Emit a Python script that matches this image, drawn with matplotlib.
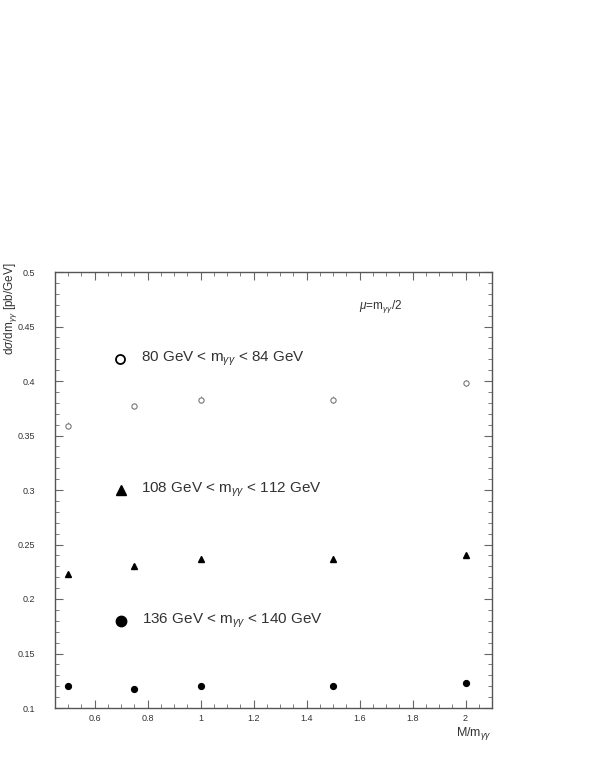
import matplotlib
matplotlib.use('Agg')
import matplotlib.pyplot as plt
from matplotlib.ticker import MultipleLocator

plt.rcParams['font.family'] = ['Liberation Sans', 'DejaVu Sans']
plt.rcParams['mathtext.fontset'] = 'custom'
plt.rcParams['mathtext.rm'] = 'Liberation Sans'
plt.rcParams['mathtext.it'] = 'Liberation Sans:italic'

# data
mass_ratio = [0.5, 0.75, 1.0, 1.5, 2.0]
sigma_80_84 = [0.359, 0.377, 0.383, 0.383, 0.398]
sigma_108_112 = [0.223, 0.230, 0.237, 0.237, 0.240]
sigma_136_140 = [0.120, 0.117, 0.120, 0.120, 0.123]
err_80_84 = [0.003, 0.003, 0.003, 0.003, 0.003]
err_108_112 = [0.002, 0.002, 0.002, 0.002, 0.002]
err_136_140 = [0.001, 0.001, 0.001, 0.001, 0.001]

labels = [r'80 GeV < m$_{\gamma\gamma}$ < 84 GeV',
          r'108 GeV < m$_{\gamma\gamma}$ < 112 GeV',
          r'136 GeV < m$_{\gamma\gamma}$ < 140 GeV']

txt = '#333333'
fig = plt.figure(figsize=(5.9, 7.63), dpi=100)
ax = fig.add_axes([55 / 590, 55 / 763, 437 / 590, 436 / 763])

# data points
ax.errorbar(mass_ratio, sigma_80_84, yerr=err_80_84, fmt='o', ms=3.8,
            mfc='white', mec='#777777', mew=0.8, ecolor='#777777', elinewidth=0.6, capsize=0)
ax.errorbar(mass_ratio, sigma_108_112, yerr=err_108_112, fmt='^', ms=4.6,
            color='black', ecolor='black', elinewidth=0.6, capsize=0)
ax.errorbar(mass_ratio, sigma_136_140, yerr=err_136_140, fmt='o', ms=4.2,
            color='black', ecolor='black', elinewidth=0.6, capsize=0)

# legend drawn inside the frame
ax.plot([0.697], [0.42], 'o', ms=6.5, mfc='white', mec='black', mew=1.3)
ax.text(0.773, 0.42, labels[0], fontsize=11, color=txt, va='center', ha='left')
ax.plot([0.699], [0.30], '^', ms=7, color='black')
ax.text(0.773, 0.30, labels[1], fontsize=11, color=txt, va='center', ha='left')
ax.plot([0.699], [0.18], 'o', ms=7.5, color='black')
ax.text(0.78, 0.18, labels[2], fontsize=11, color=txt, va='center', ha='left')

ax.text(0.696, 0.92, r'$\mu$=m$_{\gamma\gamma}$/2', transform=ax.transAxes,
        fontsize=8.5, color=txt, ha='left', va='center')

ax.set_xlim(0.45, 2.1)
ax.set_ylim(0.1, 0.5)
ax.xaxis.set_minor_locator(MultipleLocator(0.05))
ax.yaxis.set_minor_locator(MultipleLocator(0.01))
ax.set_xticks([0.6, 0.8, 1.0, 1.2, 1.4, 1.6, 1.8, 2.0])
ax.set_xticklabels(['0.6', '0.8', '1', '1.2', '1.4', '1.6', '1.8', '2'])
ax.set_yticks([0.1, 0.15, 0.2, 0.25, 0.3, 0.35, 0.4, 0.45, 0.5])
ax.set_yticklabels(['0.1', '0.15', '0.2', '0.25', '0.3', '0.35', '0.4', '0.45', '0.5'])

ax.tick_params(which='both', direction='in', top=True, right=True,
               colors='#666666', labelcolor=txt, labelsize=6.5)
ax.tick_params(which='major', length=6, width=0.8)
ax.tick_params(which='minor', length=3, width=0.6)
ax.tick_params(axis='x', which='major', pad=4)
ax.tick_params(axis='y', which='major', pad=14)
for s in ax.spines.values():
    s.set_color('#555555')
    s.set_linewidth(1.0)

fig.text(492 / 590, 1 - 733 / 763, r'M/m$_{\gamma\gamma}$', fontsize=9,
         color=txt, ha='right', va='center')
fig.text(11 / 590, 1 - 262 / 763, r'd$\sigma$/dm$_{\gamma\gamma}$ [pb/GeV]', fontsize=8.5,
         color=txt, ha='center', va='top', rotation=90)

fig.savefig('out.png', dpi=100)
